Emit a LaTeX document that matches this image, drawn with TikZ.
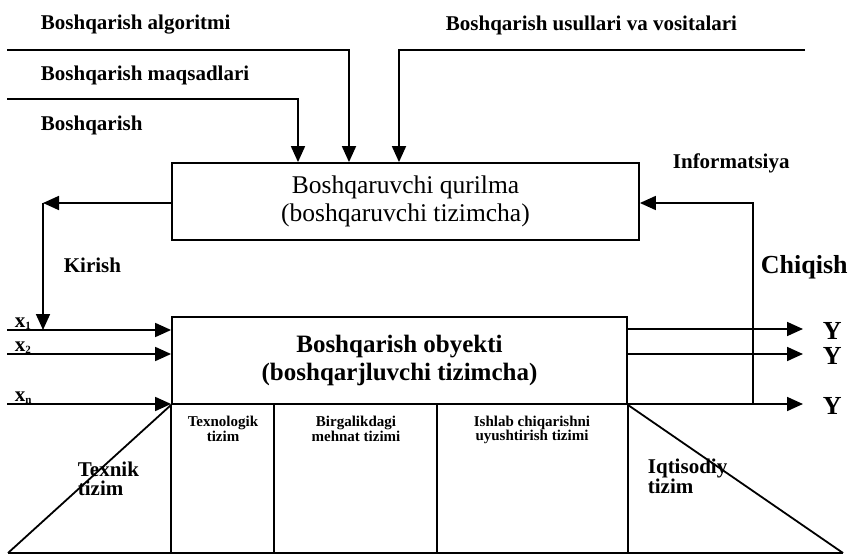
\documentclass[tikz,border=0pt]{standalone}
\usepackage{fontspec}
\setmainfont{Liberation Serif}
\usetikzlibrary{arrows.meta}

\begin{document}
\begin{tikzpicture}[x=1pt, y=-1pt, line width=1.8pt,
  >={Triangle[length=16pt,width=14pt]},
  lbl/.style={font=\bfseries\fontsize{21}{22}\selectfont, inner sep=0pt},
  biglbl/.style={font=\bfseries\fontsize{26}{28}\selectfont, inner sep=0pt},
  cell/.style={font=\bfseries\fontsize{15}{13}\selectfont, inner sep=0pt, align=center, anchor=north},
  side/.style={font=\bfseries\fontsize{21}{19}\selectfont, inner sep=0pt, align=left, anchor=north west},
  xlbl/.style={font=\bfseries\fontsize{21}{22}\selectfont, inner sep=0pt, anchor=base west},
  box/.style={draw, line width=1.8pt, align=center, inner sep=0pt}]
\useasboundingbox (0,0) rectangle (849,556);

% ---- headings of the incoming control lines
\node[lbl, anchor=west] (talg) at (40,25) {Boshqarish algoritmi};
\node[lbl, anchor=west] (tmaq) at (40,75) {Boshqarish maqsadlari};
\node[lbl, anchor=west] (tbsh) at (40,125) {Boshqarish};
\node[lbl, anchor=west] (tusl) at (445,25) {Boshqarish usullari va vositalari};

% ---- controlling device
\node[box, minimum width=467pt, minimum height=77pt,
      font=\fontsize{25.5}{28}\selectfont] (ctrl) at (405.5,201.5)
  {Boshqaruvchi qurilma\\(boshqaruvchi tizimcha)};

% ---- controlled object
\node[box, minimum width=455pt, minimum height=87pt,
      font=\bfseries\fontsize{25}{28}\selectfont] (obj) at (399.5,360.5)
  {Boshqarish obyekti\\(boshqarjluvchi tizimcha)};

% ---- control inputs from above
\coordinate (sAlg) at (7,50);
\coordinate (cAlg) at (349,50);
\coordinate (sMaq) at (7,99);
\coordinate (cMaq) at (298,99);
\coordinate (sUsl) at (805,50);
\coordinate (cUsl) at (399,50);
\draw[->] (sAlg) -- (cAlg) -- (cAlg |- ctrl.north);
\draw[->] (sMaq) -- (cMaq) -- (cMaq |- ctrl.north);
\draw[->] (sUsl) -- (cUsl) -- (cUsl |- ctrl.north);

% ---- input branch
\coordinate (kc) at (43,203);
\coordinate (kx) at (43,330);
\draw[->] (ctrl.west |- kc) -- (kc);
\draw[->] (kc) -- (kx);
\node[lbl, anchor=west] (kir) at (63,265) {Kirish};

% ---- inputs x1 ... xn
\coordinate (in1) at (7,330);
\coordinate (in2) at (7,354);
\coordinate (inn) at (7,404);
\draw[->] (in1) -- (in1 -| obj.west);
\draw[->] (in2) -- (in2 -| obj.west);
\draw[->] (inn) -- (inn -| obj.west);
\node[xlbl] (x1) at (14,327) {x\raisebox{-0.3ex}{\fontsize{11}{11}\selectfont 1}};
\node[xlbl] (x2) at (14,351) {x\raisebox{-0.3ex}{\fontsize{11}{11}\selectfont 2}};
\node[xlbl] (xn) at (14,401) {x\raisebox{-0.3ex}{\fontsize{11}{11}\selectfont n}};

% ---- outputs
\coordinate (out1) at (803,329);
\coordinate (out2) at (803,354);
\coordinate (outn) at (803,404);
\draw[->] (out1 -| obj.east) -- (out1);
\draw[->] (out2 -| obj.east) -- (out2);
\draw[->] (outn -| obj.east) -- (outn);
\node[biglbl, anchor=west] (y1) at (822,331) {Y};
\node[biglbl, anchor=west] (y2) at (822,356) {Y};
\node[biglbl, anchor=west] (yn) at (822,406) {Y};

% ---- feedback (information) loop
\coordinate (fb) at (753,404);
\coordinate (fc) at (753,203);
\draw[->] (fb) -- (fc) -- (fc -| ctrl.east);
\node[lbl, anchor=west] (inf) at (672,163) {Informatsiya};
\node[biglbl, anchor=west] (chq) at (760,267) {Chiqish};

% ---- subsystems below the object
\coordinate (bl) at (8,553);
\coordinate (br) at (843,553);
\draw (bl) -- (br);
\draw (bl) -- (obj.south west);
\draw (obj.south east) -- (br);
\draw (obj.south west) -- (obj.south west |- bl);
\draw (274,404) -- (274,553);
\draw (437,404) -- (437,553);
\draw (obj.south east) -- (obj.south east |- br);

\node[cell] (tex) at (223,415) {Texnologik\\tizim};
\node[cell] (bir) at (356,415) {Birgalikdagi\\mehnat tizimi};
\node[cell] (ish) at (532,415) {Ishlab chiqarishni\\uyushtirish tizimi};
\node[side] (tek) at (77,461) {Texnik\\tizim};
\node[side] (iqt) at (647,458) {Iqtisodiy\\tizim};
\end{tikzpicture}
\end{document}
